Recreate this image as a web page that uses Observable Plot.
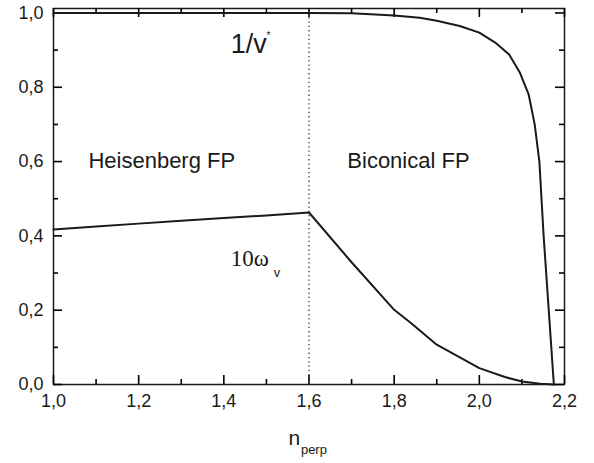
<!DOCTYPE html>
<html>
<head>
<meta charset="utf-8">
<script src="https://cdn.jsdelivr.net/npm/d3@7"></script>
<script src="https://cdn.jsdelivr.net/npm/@observablehq/plot@0.6"></script>
<style>
  html, body { margin: 0; padding: 0; background: #fff; }
  svg { font-family: "Liberation Sans", Arial, sans-serif; }
</style>
</head>
<body>
<div id="chart"></div>
<script>
// Curve 1/v*
const invVX = [1.0, 1.2, 1.4, 1.6, 1.7, 1.8, 1.86, 1.9, 1.954, 2.0, 2.04, 2.07, 2.095, 2.116, 2.13, 2.141, 2.151, 2.163, 2.175];
const invVY = [1.0, 1.0, 1.0, 1.0, 0.999, 0.993, 0.987, 0.979, 0.965, 0.947, 0.918, 0.888, 0.84, 0.78, 0.70, 0.60, 0.40, 0.20, 0.0];
// Curve 10 omega_v
const omegaX = [1.0, 1.1, 1.2, 1.3, 1.4, 1.5, 1.6, 1.7, 1.8, 1.84, 1.9, 2.0, 2.06, 2.1, 2.143, 2.175];
const omegaY = [0.417, 0.425, 0.433, 0.441, 0.448, 0.455, 0.463, 0.329, 0.201, 0.165, 0.107, 0.044, 0.020, 0.008, 0.002, 0.0];
// Boundary between fixed points
const boundaryX = [1.6];
// Tick values
const xMajor = [1.0, 1.2, 1.4, 1.6, 1.8, 2.0, 2.2];
const xMinor = [1.1, 1.3, 1.5, 1.7, 1.9, 2.1];
const yMajor = [0.0, 0.2, 0.4, 0.6, 0.8, 1.0];
const yMinor = [0.1, 0.3, 0.5, 0.7, 0.9];

const invV = invVX.map((x, i) => ({x, y: invVY[i]}));
const omega = omegaX.map((x, i) => ({x, y: omegaY[i]}));
const fmt = d => d.toFixed(1).replace(".", ",");

const ink = "#1a1a1a";
const sans = "Liberation Sans, Arial, sans-serif";
const serif = "Liberation Serif, Times New Roman, serif";

const W = 594, H = 463, mL = 53, mR = 30, mT = 8, mB = 79;
const xDom = [1.0, 2.2], yDom = [0, 1.012];
const pw = W - mL - mR, ph = H - mT - mB;
// pixel -> data unit conversion for tick lengths
const kx = (xDom[1] - xDom[0]) / pw, ky = (yDom[1] - yDom[0]) / ph;
const MAJ = 9, MIN = 5;
const tickStyle = {stroke: "#000", strokeWidth: 1.6};

const chart = Plot.plot({
  width: W,
  height: H,
  marginLeft: mL,
  marginRight: mR,
  marginTop: mT,
  marginBottom: mB,
  style: {fontFamily: sans, background: "#fff", color: ink},
  x: {domain: xDom},
  y: {domain: yDom},
  marks: [
    Plot.frame({stroke: ink, strokeWidth: 1.5, fill: "none"}),
    // tick labels
    Plot.axisX(xMajor, {anchor: "bottom", tickSize: 0, tickPadding: 10, tickFormat: fmt, fontSize: 18, label: null}),
    Plot.axisY(yMajor, {anchor: "left", tickSize: 0, tickPadding: 10, tickFormat: fmt, fontSize: 18, label: null}),
    // inward ticks on all four sides
    Plot.ruleX(xMajor, {x: d => d, y1: yDom[0], y2: yDom[0] + MAJ * ky, ...tickStyle}),
    Plot.ruleX(xMinor, {x: d => d, y1: yDom[0], y2: yDom[0] + MIN * ky, ...tickStyle}),
    Plot.ruleX(xMajor, {x: d => d, y1: yDom[1], y2: yDom[1] - MAJ * ky, ...tickStyle}),
    Plot.ruleX(xMinor, {x: d => d, y1: yDom[1], y2: yDom[1] - MIN * ky, ...tickStyle}),
    Plot.ruleY(yMajor, {y: d => d, x1: xDom[0], x2: xDom[0] + MAJ * kx, ...tickStyle}),
    Plot.ruleY(yMinor, {y: d => d, x1: xDom[0], x2: xDom[0] + MIN * kx, ...tickStyle}),
    Plot.ruleY(yMajor, {y: d => d, x1: xDom[1], x2: xDom[1] - MAJ * kx, ...tickStyle}),
    Plot.ruleY(yMinor, {y: d => d, x1: xDom[1], x2: xDom[1] - MIN * kx, ...tickStyle}),
    // dotted boundary
    Plot.ruleX(boundaryX, {y1: 0, y2: 1.0, stroke: "#333", strokeWidth: 1.3, strokeDasharray: "1.3,3"}),
    // curves
    Plot.line(invV, {x: "x", y: "y", stroke: ink, strokeWidth: 2}),
    Plot.line(omega, {x: "x", y: "y", stroke: ink, strokeWidth: 2}),
    // annotations
    Plot.text(["1/v"], {x: 1.416, y: 0.891, text: d => d, textAnchor: "start", lineAnchor: "bottom", fontSize: 27, fontFamily: sans, fill: ink}),
    Plot.text(["*"], {x: 1.5, y: 0.93, text: d => d, textAnchor: "start", lineAnchor: "bottom", fontSize: 10, fontFamily: sans, fill: ink}),
    Plot.text(["Heisenberg FP"], {x: 1.082, y: 0.583, text: d => d, textAnchor: "start", lineAnchor: "bottom", fontSize: 22, fontFamily: sans, fill: ink}),
    Plot.text(["Biconical FP"], {x: 1.69, y: 0.583, text: d => d, textAnchor: "start", lineAnchor: "bottom", fontSize: 22, fontFamily: sans, fill: ink}),
    Plot.text(["10\u03C9"], {x: 1.416, y: 0.32, text: d => d, textAnchor: "start", lineAnchor: "bottom", fontSize: 23, fontFamily: serif, fill: ink}),
    Plot.text(["v"], {x: 1.517, y: 0.29, text: d => d, textAnchor: "start", lineAnchor: "bottom", fontSize: 13, fontFamily: sans, fill: ink}),
    Plot.text(["n"], {x: 1.552, y: -0.162, text: d => d, textAnchor: "start", lineAnchor: "bottom", fontSize: 21, fontFamily: sans, fill: ink}),
    Plot.text(["perp"], {x: 1.581, y: -0.187, text: d => d, textAnchor: "start", lineAnchor: "bottom", fontSize: 13, fontFamily: sans, fill: ink})
  ]
});
document.getElementById("chart").appendChild(chart);
</script>
</body>
</html>
